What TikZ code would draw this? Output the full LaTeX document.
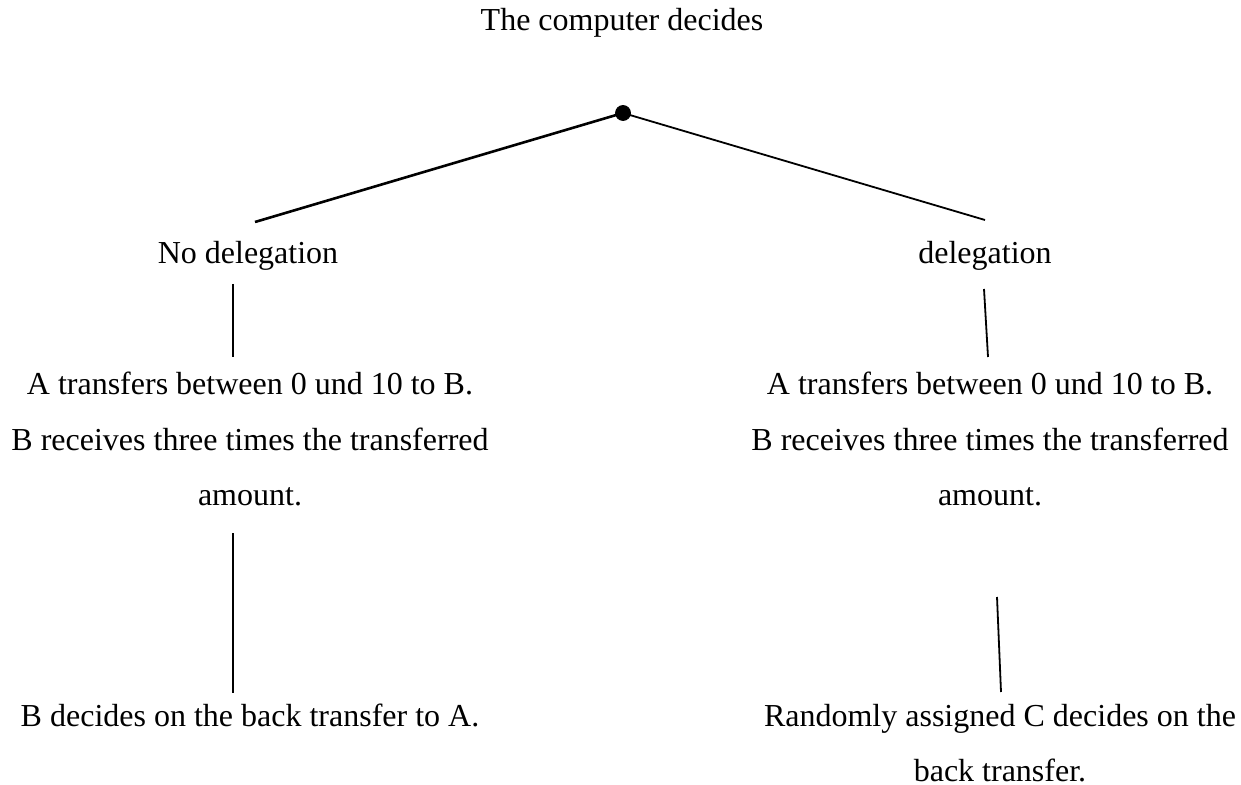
\documentclass[tikz,border=0pt]{standalone}
\usepackage{fontspec}
\setmainfont{Liberation Serif}
\tikzstyle{dot}=[circle,draw=black,fill=black,inner sep=0pt,minimum size=7.5pt]
\tikzstyle{txt}=[inner sep=0pt,anchor=base,align=center,font=\fontsize{16}{27.5}\selectfont]
\tikzstyle{edge}=[line width=0.9pt]
\begin{document}
\begin{tikzpicture}[x=0.5pt,y=-0.5pt]
			\useasboundingbox (0,0) rectangle (1241,785);
			\node [txt] (title) at (622,31) {The computer decides};
			\node [dot] (root) at (623,113) {};
			\node [txt] (nodel) at (248,264) {No delegation};
			\node [txt] (del) at (985,264) {delegation};
			\node [txt] (transl) at (250,505) {A transfers between 0 und 10 to B.\\B receives three times the transferred\\amount.};
			\node [txt] (transr) at (990,505) {A transfers between 0 und 10 to B.\\B receives three times the transferred\\amount.};
			\node [txt] (backl) at (250,726) {B decides on the back transfer to A.};
			\node [txt] (backr) at (1000,781) {Randomly assigned C decides on the\\back transfer.};
			% free ends
			\coordinate (ltip) at (255,222);
			\coordinate (rtip) at (985,220);
			\coordinate (l1a) at (233,284);
			\coordinate (l1b) at (233,357);
			\coordinate (r1a) at (984,289);
			\coordinate (r1b) at (988,357);
			\coordinate (l2a) at (233,533);
			\coordinate (l2b) at (233,693);
			\coordinate (r2a) at (997,597);
			\coordinate (r2b) at (1001,692);
			\draw [edge,line width=1.3pt] (root.center)--(ltip);
			\draw [edge] (root.center)--(rtip);
			\draw [edge] (l1a)--(l1b);
			\draw [edge] (r1a)--(r1b);
			\draw [edge] (l2a)--(l2b);
			\draw [edge] (r2a)--(r2b);
		\end{tikzpicture}
\end{document}
